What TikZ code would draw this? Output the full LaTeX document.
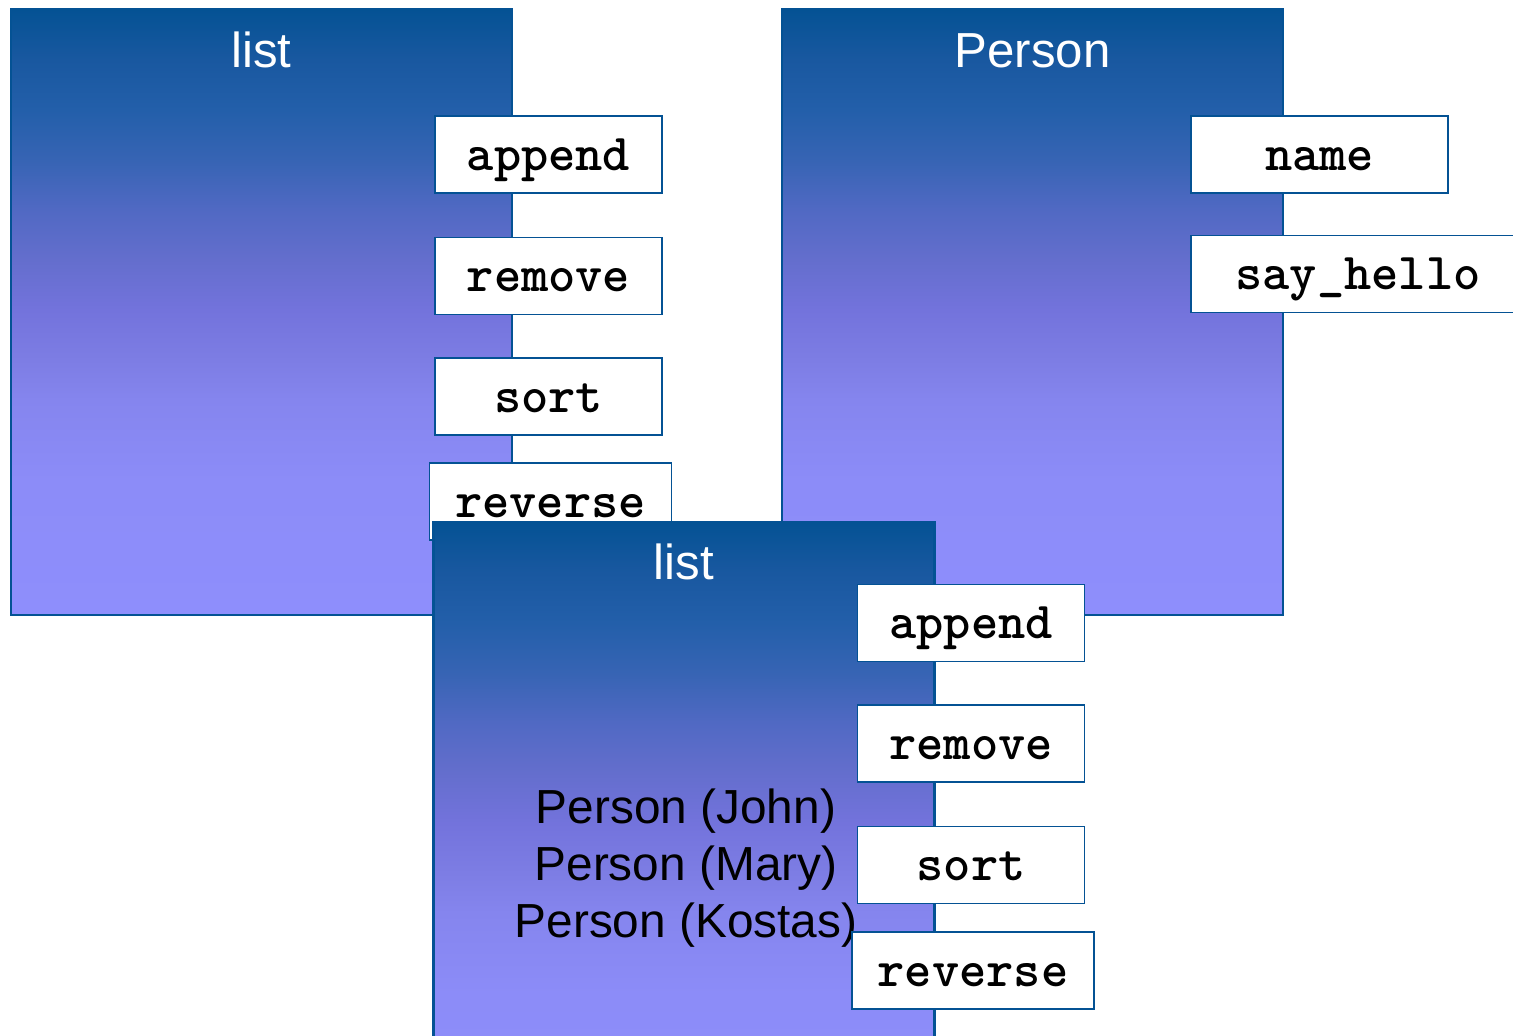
\documentclass[tikz,border=0pt]{standalone}
\usepackage{fontspec}
\setmainfont{Liberation Sans}
\usetikzlibrary{positioning}

\definecolor{boxline}{RGB}{4,82,148}
\definecolor{shTop}{RGB}{4,82,148}
\definecolor{shA}{RGB}{25,88,160}
\definecolor{shB}{RGB}{35,95,170}
\definecolor{shC}{RGB}{55,100,180}
\definecolor{shD}{RGB}{80,105,195}
\definecolor{shE}{RGB}{100,110,205}
\definecolor{shF}{RGB}{115,115,220}
\definecolor{shG}{RGB}{125,125,228}
\definecolor{shH}{RGB}{133,133,238}
\definecolor{shI}{RGB}{140,140,248}
\definecolor{shBot}{RGB}{142,142,252}
\pgfdeclareverticalshading{boxshade}{100bp}{color(0bp)=(shBot); color(25bp)=(shBot);
  color(36bp)=(shI); color(42.75bp)=(shH); color(46bp)=(shG); color(50.15bp)=(shF);
  color(54.3bp)=(shE); color(58.5bp)=(shD); color(62.5bp)=(shC); color(66.65bp)=(shB);
  color(70.8bp)=(shA); color(75bp)=(shTop); color(100bp)=(shTop)}

\tikzset{
  classbox/.style = {draw = boxline, line width = 1.6pt, shading = boxshade,
    minimum width = 10.02cm, minimum height = 12.12cm, inner sep = 0pt},
  classname/.style = {text = white, font = \fontsize{28}{32}\selectfont, anchor = base, inner sep = 0pt},
  method/.style = {draw = boxline, line width = 0.9pt, fill = white, inner sep = 0pt,
    minimum width = 4.54cm, minimum height = 1.54cm, text height = 20pt, text depth = 2pt,
    font = \ttfamily\bfseries\fontsize{29.5}{32}\selectfont},
  wide/.style = {minimum width = 4.84cm, xshift = 0.04cm}
}

\begin{document}
\begin{tikzpicture}
        \useasboundingbox (0,0) rectangle (30.26,-20.7);
        \clip (0,0) rectangle (30.26,-20.7);
        % the list class
        \node[classbox] (listA) at (5.23,-6.24) {};
        \node[classname] (listAname) at ([yshift = -1.2cm]listA.north) {list};
        \node[method] (appendA) at (10.97,-3.09) {append};
        \node[method, below = 0.86cm of appendA] (removeA) {remove};
        \node[method, below = 0.84cm of removeA] (sortA) {sort};
        \node[method, wide, below = 0.52cm of sortA] (reverseA) {reverse};
        % the Person class
        \node[classbox] (person) at (20.65,-6.24) {};
        \node[classname] (personname) at ([yshift = -1.2cm]person.north) {Person};
        \node[method, minimum width = 5.14cm] (nameP) at (26.39,-3.09) {name};
        \node[method, minimum width = 6.68cm, anchor = north west] (helloP)
          at ([yshift = -0.82cm]nameP.south west) {say\_hello};
        % a list holding persons
        \node[classbox] (listB) at (13.68,-16.5) {};
        \node[classname] (listBname) at ([yshift = -1.17cm]listB.north) {list};
        \node[align = center, font = \fontsize{27.2}{32.3}\selectfont, inner sep = 0pt] (items)
          at (13.72,-17.36) {Person (John)\\Person (Mary)\\Person (Kostas)};
        \node[method] (appendB) at (19.42,-12.46) {append};
        \node[method, below = 0.84cm of appendB] (removeB) {remove};
        \node[method, below = 0.86cm of removeB] (sortB) {sort};
        \node[method, wide, below = 0.54cm of sortB] (reverseB) {reverse};
      \end{tikzpicture}
\end{document}
